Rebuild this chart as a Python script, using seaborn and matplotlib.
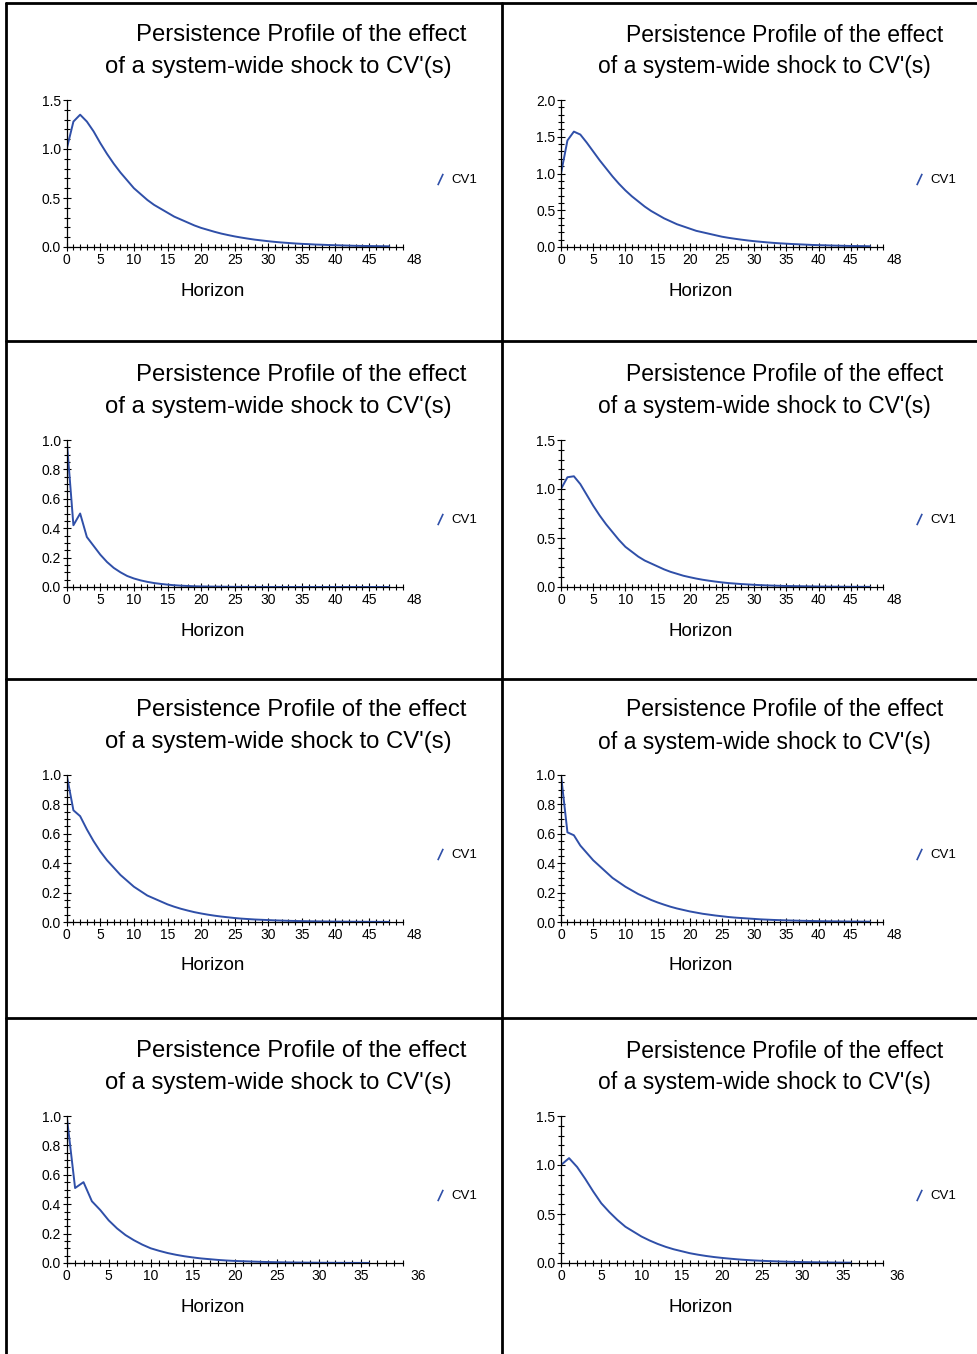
import numpy as np
import matplotlib
matplotlib.use("Agg")
import matplotlib.pyplot as plt
import matplotlib.ticker as mticker
from matplotlib.lines import Line2D
import pandas as pd
import seaborn as sns

# persistence profiles (horizon 0..48 or 0..36)
pp1 = [1.00, 1.28, 1.35, 1.28, 1.18, 1.06, 0.95, 0.85, 0.76, 0.68, 0.60, 0.54, 0.48, 0.43, 0.39, 0.35,
       0.31, 0.28, 0.25, 0.22, 0.195, 0.175, 0.155, 0.137, 0.122, 0.108, 0.096, 0.085, 0.075, 0.067,
       0.059, 0.052, 0.046, 0.041, 0.036, 0.032, 0.029, 0.025, 0.023, 0.020, 0.018, 0.016, 0.014,
       0.012, 0.011, 0.010, 0.009, 0.008, 0.007]
pp2 = [1.00, 1.45, 1.57, 1.53, 1.42, 1.30, 1.18, 1.07, 0.96, 0.86, 0.77, 0.69, 0.62, 0.55, 0.49, 0.44,
       0.39, 0.35, 0.31, 0.28, 0.25, 0.22, 0.20, 0.18, 0.16, 0.14, 0.125, 0.112, 0.10, 0.089, 0.079,
       0.071, 0.063, 0.056, 0.050, 0.045, 0.040, 0.036, 0.032, 0.028, 0.025, 0.023, 0.020, 0.018,
       0.016, 0.014, 0.013, 0.012, 0.010]
pp3 = [1.00, 0.42, 0.50, 0.34, 0.28, 0.22, 0.17, 0.13, 0.10, 0.075, 0.058, 0.045, 0.035, 0.027, 0.021,
       0.016, 0.012, 0.009, 0.007, 0.005, 0.004, 0.003, 0.0025, 0.002, 0.0015, 0.001, 0.0008, 0.0006,
       0.0005, 0.0004, 0.0003, 0.0003, 0.0002, 0.0002, 0.0002, 0.0001, 0.0001, 0.0001, 0.0001, 0.0001,
       0.0001, 0.0, 0.0, 0.0, 0.0, 0.0, 0.0, 0.0, 0.0]
pp4 = [1.00, 1.12, 1.13, 1.05, 0.94, 0.83, 0.73, 0.64, 0.56, 0.48, 0.41, 0.36, 0.31, 0.27, 0.24, 0.21,
       0.18, 0.155, 0.135, 0.115, 0.10, 0.086, 0.074, 0.064, 0.055, 0.047, 0.040, 0.035, 0.030, 0.026,
       0.022, 0.019, 0.016, 0.014, 0.012, 0.010, 0.009, 0.008, 0.007, 0.006, 0.005, 0.004, 0.0035,
       0.003, 0.0025, 0.002, 0.0018, 0.0015, 0.0013]
pp5 = [1.00, 0.76, 0.72, 0.63, 0.55, 0.48, 0.42, 0.37, 0.32, 0.28, 0.24, 0.21, 0.18, 0.16, 0.14, 0.12,
       0.104, 0.09, 0.078, 0.067, 0.058, 0.050, 0.043, 0.037, 0.032, 0.027, 0.023, 0.020, 0.017, 0.015,
       0.013, 0.011, 0.0095, 0.008, 0.007, 0.006, 0.005, 0.0044, 0.0038, 0.0032, 0.0028, 0.0024, 0.002,
       0.0017, 0.0015, 0.0013, 0.0011, 0.001, 0.0008]
pp6 = [1.00, 0.61, 0.59, 0.52, 0.47, 0.42, 0.38, 0.34, 0.30, 0.27, 0.24, 0.215, 0.19, 0.17, 0.15, 0.133,
       0.118, 0.104, 0.092, 0.082, 0.072, 0.064, 0.056, 0.050, 0.044, 0.039, 0.034, 0.030, 0.027, 0.024,
       0.021, 0.018, 0.016, 0.014, 0.0125, 0.011, 0.0097, 0.0086, 0.0076, 0.0067, 0.0059, 0.0052,
       0.0046, 0.0041, 0.0036, 0.0032, 0.0028, 0.0025, 0.0022]
pp7 = [1.00, 0.51, 0.55, 0.42, 0.36, 0.29, 0.235, 0.19, 0.155, 0.125, 0.10, 0.083, 0.068, 0.056, 0.046,
       0.038, 0.031, 0.026, 0.021, 0.017, 0.014, 0.012, 0.01, 0.008, 0.0065, 0.0053, 0.0043, 0.0035,
       0.0028, 0.0023, 0.0019, 0.0015, 0.0012, 0.001, 0.0008, 0.0007, 0.0005]
pp8 = [1.00, 1.07, 0.98, 0.86, 0.73, 0.61, 0.52, 0.44, 0.37, 0.32, 0.27, 0.23, 0.195, 0.165, 0.14, 0.12,
       0.10, 0.085, 0.072, 0.061, 0.052, 0.044, 0.037, 0.031, 0.026, 0.022, 0.019, 0.016, 0.013, 0.011,
       0.0095, 0.008, 0.0068, 0.0057, 0.0048, 0.004, 0.0034]

profiles = [pp1, pp2, pp3, pp4, pp5, pp6, pp7, pp8]
ymax = [1.5, 2.0, 1.0, 1.5, 1.0, 1.0, 1.0, 1.5]
title1 = "Persistence Profile of the effect"
title2 = "of a system-wide shock to CV'(s)"
xlabel = "Horizon"
series = "CV1"

W, H = 978, 1354
blue = "#2f4fa8"

sns.set_style("white")
plt.rcParams['font.family'] = ['Liberation Sans', 'DejaVu Sans']
plt.rcParams['text.color'] = "black"

fig = plt.figure(figsize=(W/100, H/100), dpi=100)

def fx(px):
    return px / W

def fy(py):
    return 1 - py / H

# axes geometry in pixels
col_left = [66.7, 561]
col_width = [336, 322]
row_base = [247, 587, 922, 1263]
ax_h = 147
title_size = [17.2, 16.5]

for i, vals in enumerate(profiles):
    r, c = i // 2, i % 2
    n = len(vals) - 1
    xend = 50 if n == 48 else 40
    ax = fig.add_axes([fx(col_left[c]), fy(row_base[r]), fx(col_width[c]), ax_h / H])
    df = pd.DataFrame({"h": np.arange(n + 1), "v": vals})
    sns.lineplot(data=df, x="h", y="v", ax=ax, color=blue, lw=1.4)
    ax.set_xlim(0, xend)
    ax.set_ylim(0, ymax[i])
    ax.xaxis.set_major_locator(mticker.FixedLocator(np.arange(0, n, 5)))
    ax.xaxis.set_minor_locator(mticker.MultipleLocator(1))
    if ymax[i] == 1.0:
        ax.yaxis.set_major_locator(mticker.MultipleLocator(0.2))
        ax.yaxis.set_minor_locator(mticker.MultipleLocator(0.05))
    else:
        ax.yaxis.set_major_locator(mticker.MultipleLocator(0.5))
        ax.yaxis.set_minor_locator(mticker.MultipleLocator(0.1))
    ax.yaxis.set_major_formatter(mticker.FormatStrFormatter("%.1f"))
    ax.tick_params(which="both", bottom=True, left=True, direction="inout", labelsize=10,
                   pad=1, width=0.8, color="black", labelcolor="black")
    ax.tick_params(which="major", length=6)
    ax.tick_params(which="minor", length=4)
    ax.set_xlabel("")
    ax.set_ylabel("")
    sns.despine(ax=ax)
    for s in ("left", "bottom"):
        ax.spines[s].set_color("black")
        ax.spines[s].set_linewidth(0.9)
    ax.patch.set_alpha(0)
    # end-of-horizon label beyond the axis end
    ax.text(xend + 1.8, -0.04, str(n), transform=ax.get_xaxis_transform(),
            ha="center", va="top", fontsize=10)

    # titles and x label
    y0 = row_base[r]
    cx1 = [301, 785][c]
    cx2 = [278, 764][c]
    fig.text(fx(cx1), fy(y0 - 212), title1, ha="center", va="center", fontsize=title_size[c])
    fig.text(fx(cx2), fy(y0 - 180), title2, ha="center", va="center", fontsize=title_size[c])
    fig.text(fx([213, 701][c]), fy(y0 + 44), xlabel, ha="center", va="center", fontsize=13.5)

    # legend with a slanted stroke as its key
    h = Line2D([], [], color=blue, linestyle="none", marker=(2, 0, -25),
               markersize=9, markeredgewidth=1.2, markeredgecolor=blue)
    ax.legend(handles=[h], labels=[series], loc="center left",
              bbox_to_anchor=(fx([433, 912][c]), fy(y0 - 67)), bbox_transform=fig.transFigure,
              frameon=False, fontsize=9.5, handlelength=1.0, handletextpad=0.4,
              borderpad=0, borderaxespad=0)

# table borders
lw = 2
fig.add_artist(Line2D([fx(6), fx(6)], [fy(3), 0], transform=fig.transFigure, color="black", lw=lw))
fig.add_artist(Line2D([fx(502), fx(502)], [fy(3), 0], transform=fig.transFigure, color="black", lw=lw))
for yy in [3, 341, 679, 1018]:
    fig.add_artist(Line2D([fx(6), 1], [fy(yy), fy(yy)], transform=fig.transFigure, color="black", lw=lw))

fig.savefig("out.png", dpi=100)
